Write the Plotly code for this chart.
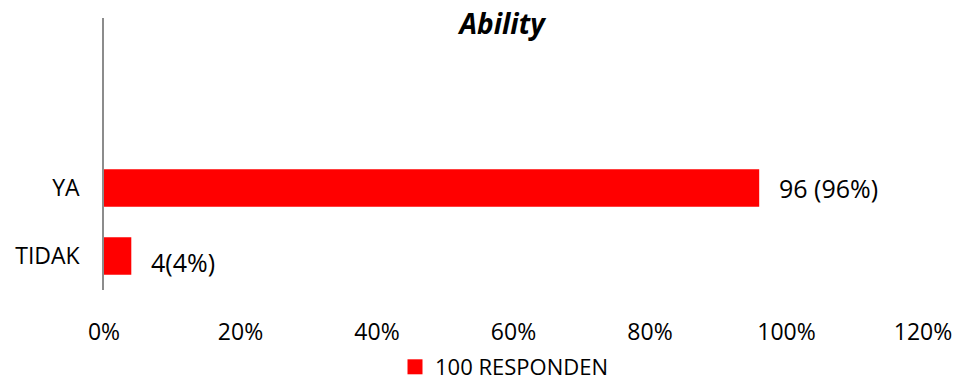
import plotly.graph_objects as go

# Survey answers and counts (100 respondents)
categories = ["TIDAK", "YA"]
counts = [4, 96]
total = 100
bar_labels = ["4(4%)", "96 (96%)"]
x_ticks = [0, 0.2, 0.4, 0.6, 0.8, 1.0, 1.2]
x_tick_text = ["0%", "20%", "40%", "60%", "80%", "100%", "120%"]
series_name = "100 RESPONDEN"
title_text = "Ability"

shares = [c / total for c in counts]

FONT = "Open Sans, Liberation Sans, sans-serif"
RED = "#FF0000"

fig = go.Figure()
fig.add_trace(go.Bar(
    x=shares,
    y=categories,
    orientation="h",
    name=series_name,
    marker=dict(color=RED, line=dict(width=0)),
    width=0.55,
    showlegend=False,
    legendgroup="resp",
))
# legend entry with a larger square swatch
fig.add_trace(go.Scatter(
    x=[None], y=[None], mode="markers", name=series_name,
    marker=dict(symbol="square", size=15, color=RED, line=dict(width=0)),
    legendgroup="resp", showlegend=True,
))

# value labels placed just past each bar end
for cat, val, lab, dy in zip(categories, shares, bar_labels, [6, 0]):
    fig.add_annotation(
        x=val, y=cat, text=lab, showarrow=False,
        xanchor="left", yanchor="middle", xshift=18, yshift=-dy,
        font=dict(family=FONT, size=25, color="#000000"),
    )

fig.update_layout(
    width=960, height=383,
    margin=dict(l=104, r=37, t=18, b=93, autoexpand=False),
    paper_bgcolor="white", plot_bgcolor="white",
    title=dict(
        text="<b><i>" + title_text + "</i></b>",
        x=0.523, xanchor="center", xref="container",
        y=1 - 24 / 383, yanchor="middle", yref="container",
        font=dict(family=FONT, size=28, color="#000000"),
    ),
    xaxis=dict(
        range=[0, 1.2], tickvals=x_ticks, ticktext=x_tick_text,
        showgrid=False, zeroline=False, showline=False, ticks="",
        ticklabelstandoff=26, automargin=False,
        tickfont=dict(family=FONT, size=23, color="#000000"),
    ),
    yaxis=dict(
        type="category", categoryorder="array", categoryarray=categories,
        range=[-0.5, 3.5],
        showgrid=False, zeroline=False, showline=True,
        linecolor="#8C8C8C", linewidth=1.5, ticks="",
        ticklabelstandoff=18, automargin=False,
        tickfont=dict(family=FONT, size=23, color="#000000"),
    ),
    legend=dict(
        orientation="h", x=0.525, xanchor="center", xref="container",
        y=1 - 367 / 383, yanchor="middle", yref="container",
        font=dict(family=FONT, size=22, color="#000000"),
        itemwidth=30, itemsizing="trace",
    ),
)

fig.write_html("out.html")
